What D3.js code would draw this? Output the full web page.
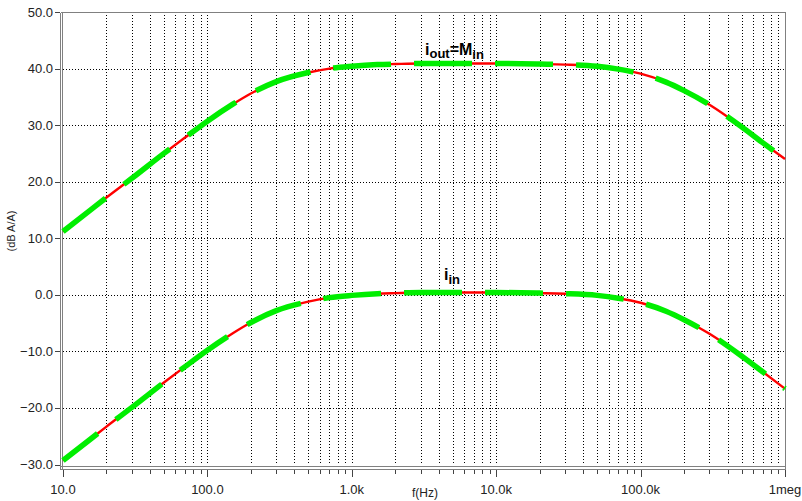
<!DOCTYPE html>
<html>
<head>
<meta charset="utf-8">
<script src="https://cdn.jsdelivr.net/npm/d3@7"></script>
<style>
  html, body { margin: 0; padding: 0; background: #fff; }
  svg { display: block; font-family: "Liberation Sans", Arial, sans-serif; }
</style>
</head>
<body>
<svg id="chart" width="802" height="501"></svg>
<script>
// Frequency sweep points (Hz)
const freqs = [10, 15, 20, 30, 50, 70, 100, 150, 200, 300, 500, 700,
  1e3, 1.5e3, 2e3, 3e3, 5e3, 7e3, 1e4, 2e4, 3e4, 5e4, 7e4,
  1e5, 1.5e5, 2e5, 3e5, 5e5, 7e5, 1e6];

// Output current gain, iout = M*iin (dB A/A)
const ioutDb = [11.2, 14.7, 17.2, 20.6, 25.0, 27.8, 30.7, 33.7, 35.6, 37.7, 39.3, 40.0,
  40.4, 40.7, 40.8, 40.9, 40.9, 40.9, 40.9, 40.8, 40.7, 40.4, 39.9,
  39.1, 37.6, 36.1, 33.6, 29.7, 26.9, 24.0];

// Input current (dB A/A)
const iinDb = [-29.3, -25.8, -23.3, -19.9, -15.5, -12.7, -9.8, -6.8, -4.9, -2.8, -1.2, -0.5,
  -0.1, 0.2, 0.3, 0.4, 0.4, 0.4, 0.4, 0.3, 0.2, -0.1, -0.6,
  -1.4, -2.9, -4.4, -6.9, -10.8, -13.6, -16.6];

// Axis ticks and labels
const yTicks = [-30, -20, -10, 0, 10, 20, 30, 40, 50];
const xDecades = [10, 100, 1e3, 1e4, 1e5, 1e6];
const xDecadeLabels = ["10.0", "100.0", "1.0k", "10.0k", "100.0k", "1meg"];

const svg = d3.select("#chart");
const L = 63, R = 785, T = 12, B = 464.5;
const x = d3.scaleLog().domain([10, 1e6]).range([L, R]);
const y = d3.scaleLinear().domain([-30, 50]).range([B, T]);
const px = v => Math.round(v) + 0.5;

// all 1..9 x decade positions
const xAll = [];
xDecades.forEach((d, i) => {
  if (i < xDecades.length - 1) for (let k = 1; k <= 9; k++) xAll.push(d * k);
  else xAll.push(d);
});

const grid = svg.append("g").attr("stroke", "#000").attr("stroke-width", 1)
  .attr("stroke-dasharray", "1,2").attr("shape-rendering", "crispEdges");
grid.selectAll("line.v").data(xAll.filter(f => f > 10 && f < 1e6)).join("line")
  .attr("x1", d => px(x(d))).attr("x2", d => px(x(d)))
  .attr("y1", T).attr("y2", B);
grid.selectAll("line.h").data(yTicks.filter(v => v > -30 && v < 50)).join("line")
  .attr("x1", L).attr("x2", R)
  .attr("y1", d => px(y(d))).attr("y2", d => px(y(d)));

// frame and axis lines
const frame = svg.append("g").attr("stroke", "#808080").attr("stroke-width", 1)
  .attr("fill", "none").attr("shape-rendering", "crispEdges");
frame.append("line").attr("x1", 60.5).attr("x2", R + 0.5).attr("y1", px(T)).attr("y2", px(T));
frame.append("line").attr("x1", R + 0.5).attr("x2", R + 0.5).attr("y1", px(T)).attr("y2", 469.5);
frame.append("line").attr("x1", 60.5).attr("x2", 60.5).attr("y1", px(T)).attr("y2", 469.5);
frame.append("line").attr("x1", 62.5).attr("x2", 62.5).attr("y1", px(T)).attr("y2", 469.5);
frame.append("line").attr("x1", 60.5).attr("x2", R + 0.5).attr("y1", 466.5).attr("y2", 466.5);
frame.append("line").attr("x1", 60.5).attr("x2", R + 0.5).attr("y1", 469.5).attr("y2", 469.5);

// y ticks and labels
const yAx = svg.append("g");
yAx.selectAll("line").data(yTicks).join("line")
  .attr("x1", 55).attr("x2", 60).attr("y1", d => px(y(d))).attr("y2", d => px(y(d)))
  .attr("stroke", "#444").attr("shape-rendering", "crispEdges");
yAx.selectAll("text").data(yTicks).join("text")
  .attr("x", 53).attr("y", d => y(d) + 4.5).attr("text-anchor", "end")
  .attr("font-size", 13).attr("fill", "#222")
  .text(d => d3.format(".1f")(d));

// x ticks and labels
const xAx = svg.append("g");
xAx.selectAll("line").data(xAll).join("line")
  .attr("x1", d => px(x(d))).attr("x2", d => px(x(d)))
  .attr("y1", 469.5).attr("y2", d => xDecades.includes(d) ? 477 : 474)
  .attr("stroke", "#444").attr("shape-rendering", "crispEdges");
xAx.selectAll("text").data(xDecades).join("text")
  .attr("x", d => x(d)).attr("y", 494).attr("text-anchor", "middle")
  .attr("font-size", 13).attr("fill", "#222")
  .text((d, i) => xDecadeLabels[i]);

// axis titles
svg.append("text").attr("x", 425).attr("y", 497).attr("text-anchor", "middle")
  .attr("font-size", 12).attr("fill", "#222").text("f(Hz)");
svg.append("text").attr("transform", "translate(15,231) rotate(-90)")
  .attr("text-anchor", "middle").attr("font-size", 11).attr("fill", "#222").text("(dB A/A)");

// curves: thin red trace with thick green dashes on top
const DASH = 58, GAP = 23, PERIOD = DASH + GAP;
const line = d3.line().x((d, i) => x(freqs[i])).y(d => y(d)).curve(d3.curveMonotoneX);

// path length at which the trace reaches a given x pixel
function lengthAtX(node, targetX) {
  let lo = 0, hi = node.getTotalLength();
  for (let k = 0; k < 40; k++) {
    const mid = (lo + hi) / 2;
    if (node.getPointAtLength(mid).x < targetX) lo = mid; else hi = mid;
  }
  return lo;
}

[[ioutDb, 472], [iinDb, 462]].forEach(([series, gapX]) => {
  svg.append("path").attr("d", line(series)).attr("fill", "none")
    .attr("stroke", "#ff0000").attr("stroke-width", 2.4);
  const g = svg.append("path").attr("d", line(series)).attr("fill", "none")
    .attr("stroke", "#00ee00").attr("stroke-width", 5.5)
    .attr("stroke-dasharray", DASH + "," + GAP).attr("stroke-linecap", "butt");
  // phase the dashes so a gap opens at gapX
  const s = lengthAtX(g.node(), gapX);
  const off = ((DASH - s) % PERIOD + PERIOD) % PERIOD;
  g.attr("stroke-dashoffset", off);
});

// curve labels
const lab1 = svg.append("text").attr("x", 425).attr("y", 55)
  .attr("font-weight", "bold").attr("font-size", 16).attr("fill", "#000");
lab1.append("tspan").text("i");
lab1.append("tspan").attr("font-size", 13).attr("dy", 3).text("out");
lab1.append("tspan").attr("dy", -3).text("=M");
lab1.append("tspan").attr("font-size", 13).attr("dy", 4).text("in");

const lab2 = svg.append("text").attr("x", 444).attr("y", 280)
  .attr("font-weight", "bold").attr("font-size", 16).attr("fill", "#000");
lab2.append("tspan").text("i");
lab2.append("tspan").attr("font-size", 13).attr("dy", 4).text("in");
</script>
</body>
</html>
